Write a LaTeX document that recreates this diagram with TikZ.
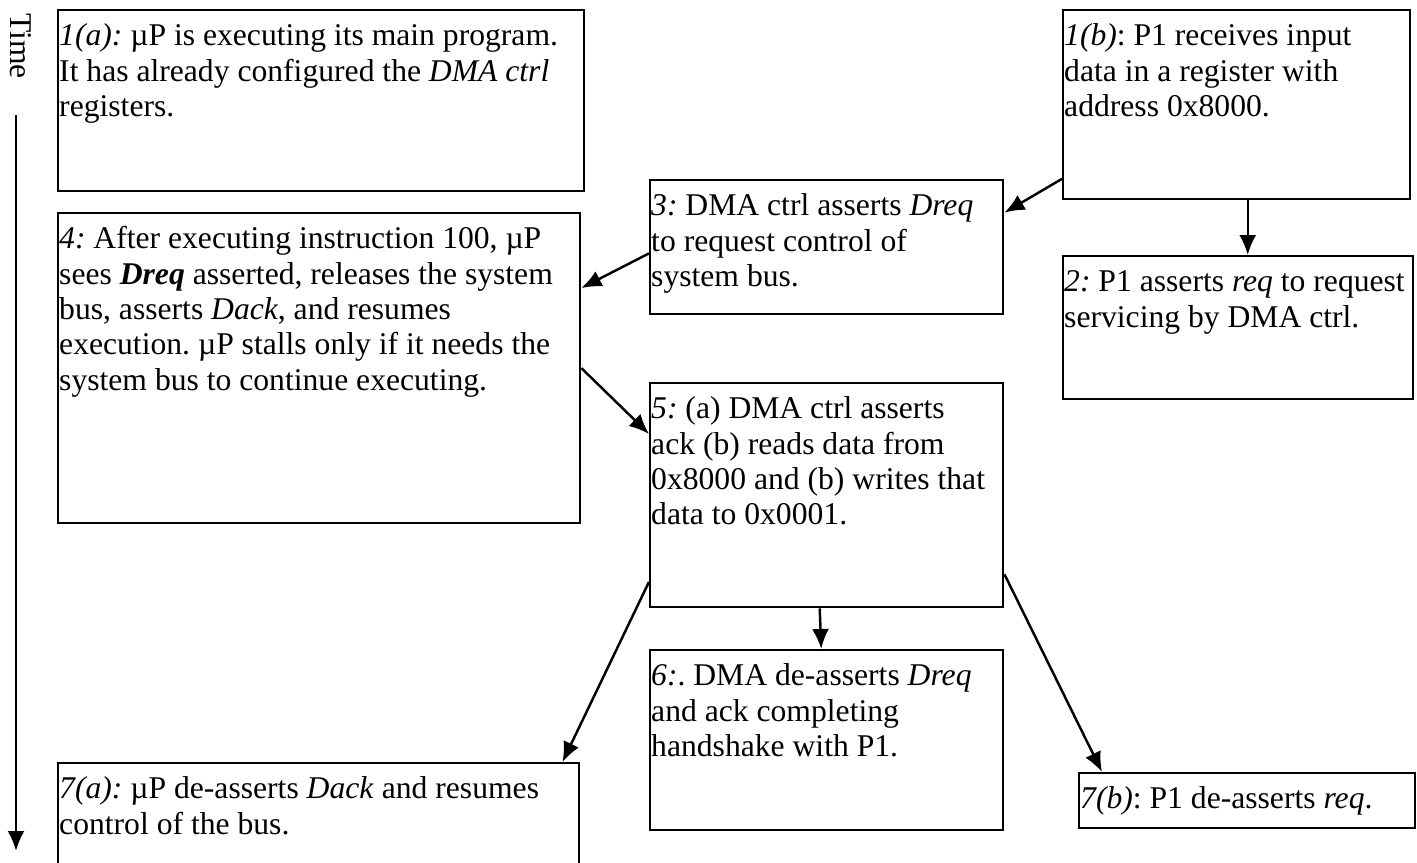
\documentclass[tikz,border=0pt]{standalone}
\usepackage{fontspec}
\setmainfont{Liberation Serif}
\usepackage{tikz}
\usetikzlibrary{arrows.meta, calc}
\frenchspacing

\tikzset{
    evbox/.style={draw, line width=1.4pt, anchor=north west, align=left,
        inner xsep=0.2mm, inner ysep=0pt, text height=20.3pt,
        font=\fontsize{18}{20.1}\selectfont,
        execute at begin node={\spaceskip=0.25em plus 0.1em minus 0.05em\relax}},
    flow/.style={->, line width=1.4pt},
}

\begin{document}
\begin{tikzpicture}[>={Latex[length=4mm,width=3.4mm]}, x=0.2mm, y=-0.2mm]
    \useasboundingbox (0,0) rectangle (1417,862);
    % Time axis
    \node[rotate=-90, font=\fontsize{18}{20.1}\selectfont] (tlabel) at (21,46) {Time};
    \coordinate (ttop) at (16,115);
    \coordinate (tbot) at (16,851);
    \draw[flow] (ttop) -- (tbot);

    % Left column
    \node[evbox, text width=104.8mm, text depth=29.04mm] (e1a) at (57,9)
        {\textit{1(a):} µP is executing its main program.\\
         It has already configured the \textit{DMA ctrl}\\
         registers.};
    \node[evbox, text width=104mm, text depth=54.84mm] (e4) at (57,212)
        {\textit{4:} After executing instruction 100, µP\\
         sees \textbf{\textit{Dreq}} asserted, releases the system\\
         bus, asserts \textit{Dack}, and resumes\\
         execution. µP stalls only if it needs the\\
         system bus to continue executing.};
    \node[evbox, text width=103.8mm, text depth=18.84mm] (e7a) at (57,762)
        {\textit{7(a):} µP de-asserts \textit{Dack} and resumes\\
         control of the bus.};

    % Middle column
    \node[evbox, text width=70.2mm, text depth=19.64mm] (e3) at (649,179)
        {\textit{3:} DMA ctrl asserts \textit{Dreq}\\
         to request control of\\
         system bus.};
    \node[evbox, text width=70.2mm, text depth=37.64mm] (e5) at (649,382)
        {\textit{5:} (a) DMA ctrl asserts\\
         ack (b) reads data from\\
         0x8000 and (b) writes that\\
         data to 0x0001.};
    \node[evbox, text width=70.2mm, text depth=28.84mm] (e6) at (649,649)
        {\textit{6:}. DMA de-asserts \textit{Dreq}\\
         and ack completing\\
         handshake with P1.};

    % Right column
    \node[evbox, text width=69mm, text depth=30.64mm] (e1b) at (1062,9)
        {\textit{1(b)}: P1 receives input\\
         data in a register with\\
         address 0x8000.};
    \node[evbox, text width=69.6mm, text depth=21.44mm] (e2) at (1062,255)
        {\textit{2:} P1 asserts \textit{req} to request\\
         servicing by DMA ctrl.};
    \node[evbox, text width=66.8mm, text depth=3.84mm] (e7b) at (1078,772)
        {\textit{7(b)}: P1 de-asserts \textit{req}.};

    % Arrows
    \draw[flow] (e1b.203) -- (e3.11);
    \draw[flow] ([xshift=2.2mm]e1b.south) -- ([xshift=2.2mm]e1b.south |- e2.north);
    \draw[flow] (e3.182) -- (e4.17);
    \draw[flow] (e4.east) -- (e5.161);
    \draw[flow] ([xshift=-1.4mm]e5.south) -- ([xshift=-1.1mm]e6.north);
    \draw[flow] (e5.206) -- ([xshift=-3.6mm]e7a.north east);
    \draw[flow] (e5.336) -- ([xshift=4.8mm]e7b.north west);
\end{tikzpicture}
\end{document}
